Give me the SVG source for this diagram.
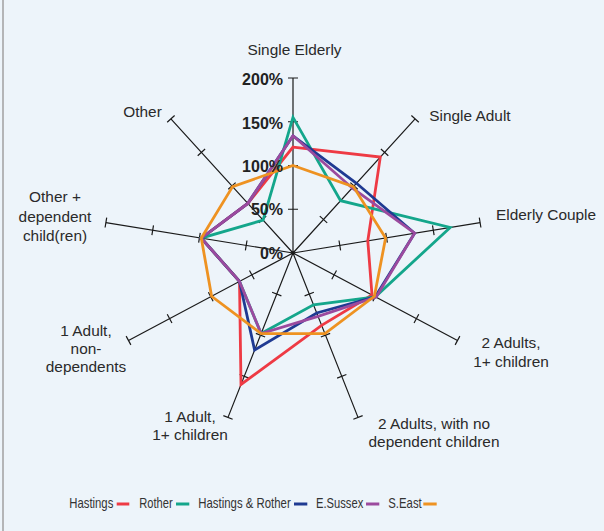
<svg xmlns="http://www.w3.org/2000/svg" width="604" height="531" viewBox="0 0 604 531">
<style>
.lbl{font-family:"Liberation Sans",Arial,sans-serif;font-size:15.4px;fill:#2a2a2a}
.pct{font-family:"Liberation Sans",Arial,sans-serif;font-size:16px;font-weight:bold;fill:#222;text-anchor:end}
.leg{font-family:"Liberation Sans",Arial,sans-serif;font-size:14.5px;fill:#333}
.ax{stroke:#1a1a1a;stroke-width:1.2;fill:none}
.s{fill:none;stroke-width:2.8;stroke-linejoin:miter}
.red{stroke:#ee3a44}.teal{stroke:#14a68b}.blue{stroke:#1f3a92}.purple{stroke:#9b4a9e}.orange{stroke:#ee9221}
</style>
<rect x="0" y="0" width="604" height="531" fill="#edf4fa"/>
<line x1="3" y1="0" x2="3" y2="531" stroke="#a0a0a0" stroke-width="1.5"/>
<g id="axes" class="ax">
<path d="M293,253L293,78M293,253L415.1,118.9M293,253L480.1,222.6M293,253L457.5,340.5M293,253L358,417.4M293,253L228,417.4M293,253L128.5,340.5M293,253L105.9,222.6M293,253L170.9,118.9"/>
<path d="M288,209.25H298M288,165.5H298M288,121.75H298M288,78H298
M319.8,216.1L327.2,222.9M350.35,182.6L357.75,189.3M380.9,149L388.3,155.8M411.4,115.5L418.8,122.3
M339,240.5L340.6,250.3M385.75,232.9L387.35,242.7M432.5,225.3L434.1,235.1M479.3,217.7L480.9,227.5
M336.5,270.5L331.8,279.3M377.6,292.3L372.9,301.2M418.75,314.2L414.05,323M459.85,336.1L455.15,344.9
M313.9,292.3L304.6,295.9M330.15,333.4L320.85,337M346.4,374.5L337.1,378.1M362.65,415.6L353.35,419.2
M272.1,292.3L281.4,295.9M255.85,333.4L265.15,337M239.6,374.5L248.9,378.1M223.35,415.6L232.65,419.2
M249.5,270.5L254.2,279.3M208.4,292.3L213.1,301.2M167.25,314.2L171.95,323M126.15,336.1L130.85,344.9
M247,240.5L245.4,250.3M200.25,232.9L198.65,242.7M153.5,225.3L151.9,235.1M106.7,217.7L105.1,227.5
M266.2,216.1L258.8,222.9M235.65,182.6L228.25,189.3M205.1,149L197.7,155.8M174.6,115.5L167.2,122.3"/>
</g>
<g id="series">
<polygon id="hastings" class="s red" points="293,147.1 380.3,157.1 367.8,240.8 372,295 321.6,325.3 241,384.5 239.5,281.4 201.3,238.1 247.8,203.4"/>
<polygon id="rother" class="s teal" points="293,117.4 340.6,200.7 450.2,227.5 375.3,296.8 313.5,304.8 261.1,333.6 239.5,281.4 201.3,238.1 263.1,220.1"/>
<polygon id="hastings-rother" class="s blue" points="293,135.8 356.5,183.3 414.6,233.2 375.3,296.8 316.7,313 254.6,350 239.5,281.4 201.3,238.1 247.8,203.4"/>
<polygon id="esussex" class="s purple" points="293,135.8 352.2,188 414.6,233.2 376.1,297.2 318,316.3 261.1,333.6 239.5,281.4 201.3,238.1 247.8,203.4"/>
<polygon id="seast" class="s orange" points="293,165.5 353.4,186.6 385.6,238 374.4,296.3 324.9,333.6 261.1,333.6 211.6,296.3 201.3,238.1 232.6,186.6"/>
</g>
<g id="scale">
<text class="pct" x="283" y="85">200%</text>
<text class="pct" x="283" y="128.5">150%</text>
<text class="pct" x="283" y="172">100%</text>
<text class="pct" x="283" y="215">50%</text>
<text class="pct" x="283" y="258.5">0%</text>
</g>
<g id="labels" class="lbl">
<text id="l-single-elderly" x="294.5" y="55.3" text-anchor="middle">Single Elderly</text>
<text id="l-single-adult" x="429.3" y="120.7">Single Adult</text>
<text id="l-elderly-couple" x="496" y="220">Elderly Couple</text>
<text id="l-2a1c" text-anchor="middle"><tspan x="511" y="348.3">2 Adults,</tspan><tspan x="511" y="366.7">1+ children</tspan></text>
<text id="l-2anodep" text-anchor="middle"><tspan x="434" y="429">2 Adults, with no</tspan><tspan x="434" y="446.7">dependent children</tspan></text>
<text id="l-1a1c" text-anchor="middle"><tspan x="190" y="421.5">1 Adult,</tspan><tspan x="190" y="440">1+ children</tspan></text>
<text id="l-1anondep" text-anchor="middle"><tspan x="86" y="335.7">1 Adult,</tspan><tspan x="86" y="354">non-</tspan><tspan x="86" y="372.3">dependents</tspan></text>
<text id="l-otherdep" text-anchor="middle"><tspan x="55" y="202.3">Other +</tspan><tspan x="55" y="221.7">dependent</tspan><tspan x="55" y="240.7">child(ren)</tspan></text>
<text id="l-other" x="123.3" y="117.3">Other</text>
</g>
<g id="legend">
<text class="leg" x="69.3" y="508" textLength="44" lengthAdjust="spacingAndGlyphs">Hastings</text>
<line x1="116.7" y1="504" x2="129.3" y2="504" class="red" stroke-width="3"/>
<text class="leg" x="139.3" y="508" textLength="33.4" lengthAdjust="spacingAndGlyphs">Rother</text>
<line x1="176" y1="504" x2="189.3" y2="504" class="teal" stroke-width="3"/>
<text class="leg" x="198.3" y="508" textLength="92.4" lengthAdjust="spacingAndGlyphs">Hastings &amp; Rother</text>
<line x1="294" y1="504" x2="307.3" y2="504" class="blue" stroke-width="3"/>
<text class="leg" x="316" y="508" textLength="47.3" lengthAdjust="spacingAndGlyphs">E.Sussex</text>
<line x1="366" y1="504" x2="379.3" y2="504" class="purple" stroke-width="3"/>
<text class="leg" x="388.3" y="508" textLength="33.4" lengthAdjust="spacingAndGlyphs">S.East</text>
<line x1="423.3" y1="504" x2="436.7" y2="504" class="orange" stroke-width="3"/>
</g>
</svg>
